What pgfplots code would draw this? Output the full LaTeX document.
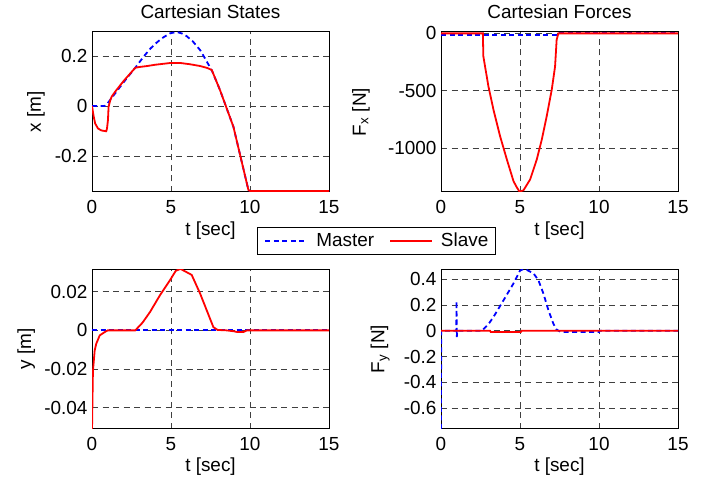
\documentclass[border=0pt]{standalone}
\usepackage{fontspec}
\setmainfont{Liberation Sans}
\usepackage{pgfplots}
\pgfplotsset{compat=1.18}

\definecolor{mblue}{RGB}{0,0,255}
\definecolor{sred}{RGB}{255,0,0}

\pgfplotsset{
  panel/.style={
    scale only axis, width=237bp, anchor=south west,
    xmin=0, xmax=15, xtick={0,5,10,15}, xticklabels={0,5,10,15},
    scaled ticks=false,
    grid=major,
    major grid style={dash pattern=on 6bp off 4.5bp, black!75, line width=0.6bp},
    major tick length=0pt,
    axis line style={black, line width=1bp},
    xticklabel style={yshift=-2bp},
    yticklabel style={xshift=2bp},
    xlabel={t [sec]},
    xlabel style={at={(axis description cs:0.5,-0.24)}, anchor=center},
    every axis title shift=0pt,
    title style={at={(axis description cs:0.5,1.125)}, anchor=center},
  },
  master/.style={mblue, line width=1.8bp, dash pattern=on 5bp off 3.5bp},
  slave/.style={sred, line width=1.8bp},
}

\begin{document}
\fontsize{19}{22}\selectfont
\begin{tikzpicture}
\useasboundingbox (0,0) rectangle (717bp,481bp);

% top left: x position
\begin{axis}[panel, at={(92bp,289bp)}, height=160bp,
  ymin=-0.344, ymax=0.296,
  ytick={-0.2,0,0.2}, yticklabels={-0.2,0,0.2},
  ylabel={x [m]},
  ylabel style={at={(axis description cs:-0.236,0.5)}, anchor=center},
  title={Cartesian States},
  legend columns=2,
  legend style={at={(axis description cs:1.2,-0.306)}, anchor=center,
    draw=black, line width=0.8bp, inner xsep=7bp, inner ysep=5bp,
    nodes={inner sep=0pt},
    /tikz/every odd column/.append style={column sep=8bp},
    /tikz/every even column/.append style={column sep=15bp}},
  legend image code/.code={\draw[#1] (0bp,0bp) -- (42bp,0bp);},
]
\addplot[master] coordinates {(0,0) (0.8,0) (1.0,0.012) (1.4,0.045) (2.0,0.095)
  (2.74,0.153) (3.26,0.197) (3.7,0.23) (4.1,0.254) (4.5,0.274) (4.95,0.291)
  (5.37,0.296) (5.7,0.29) (6.0,0.279) (6.4,0.257) (6.84,0.224) (7.1,0.196)
  (7.37,0.166) (7.6,0.14) (8.1,0.064) (8.95,-0.083) (9.9,-0.336) (10,-0.34) (15,-0.34)};
\addlegendentry{Master}
\addplot[slave] coordinates {(0,0) (0.1,-0.04) (0.2,-0.07) (0.38,-0.09) (0.6,-0.098)
  (0.9,-0.101) (0.95,-0.09) (1.01,-0.056) (1.05,-0.003) (1.15,0.022) (1.25,0.038)
  (1.5,0.06) (2.0,0.1) (2.74,0.153) (3.0,0.156) (3.5,0.16) (4.0,0.165) (4.95,0.172)
  (5.6,0.172) (6.2,0.167) (6.84,0.16) (7.3,0.152) (7.58,0.144) (8.1,0.064)
  (8.95,-0.083) (9.9,-0.336) (10,-0.34) (15,-0.34)};
\addlegendentry{Slave}
\end{axis}

% top right: Fx
\begin{axis}[panel, at={(441bp,289bp)}, height=160bp,
  ymin=-1385, ymax=12,
  ytick={-1000,-500,0}, yticklabels={-1000,-500,0},
  ylabel={F\textsubscript{x} [N]},
  ylabel style={at={(axis description cs:-0.338,0.5)}, anchor=center},
  title={Cartesian Forces},
]
\addplot[master] coordinates {(0,-12) (7.4,-12) (7.45,0) (15,0)};
\addplot[slave] coordinates {(0,0) (2.65,0) (2.68,-200) (3.0,-462) (3.32,-666)
  (3.74,-898) (4.17,-1102) (4.59,-1291) (4.8,-1345) (4.97,-1382) (5.22,-1370)
  (5.64,-1276) (6.06,-1102) (6.38,-927) (6.69,-724) (7.01,-491) (7.22,-288)
  (7.32,-55) (7.43,0) (15,0)};
\end{axis}

% bottom left: y position
\begin{axis}[panel, at={(92bp,52.3bp)}, height=159.4bp,
  ymin=-0.0509, ymax=0.0316,
  ytick={-0.04,-0.02,0,0.02}, yticklabels={-0.04,-0.02,0,0.02},
  ylabel={y [m]},
  ylabel style={at={(axis description cs:-0.278,0.5)}, anchor=center},
]
\addplot[master] coordinates {(0,0) (15,0)};
\addplot[slave] coordinates {(0,-0.052) (0.03,-0.036) (0.06,-0.021) (0.17,-0.0104)
  (0.27,-0.0069) (0.49,-0.0026) (0.8,-0.0009) (1.0,0) (2.74,0) (3.2,0.004)
  (3.68,0.0096) (4.31,0.0183) (4.94,0.026) (5.3,0.0308) (5.6,0.0318) (5.9,0.0305)
  (6.31,0.0287) (6.84,0.0191) (7.26,0.0104) (7.68,0.0017) (7.95,0.0002) (8.5,0)
  (9.0,-0.0005) (9.2,-0.0009) (9.6,-0.0008) (9.8,0) (15,0)};
\end{axis}

% bottom right: Fy
\begin{axis}[panel, at={(441bp,52.3bp)}, height=159.4bp,
  ymin=-0.758, ymax=0.475,
  ytick={-0.6,-0.4,-0.2,0,0.2,0.4}, yticklabels={-0.6,-0.4,-0.2,0,0.2,0.4},
  ylabel={F\textsubscript{y} [N]},
  ylabel style={at={(axis description cs:-0.257,0.5)}, anchor=center},
]
\addplot[master] coordinates {(0,-0.76) (0.01,0) (0.97,0) (0.98,0.23) (1.0,-0.05)
  (1.02,0) (2.59,0) (3.0,0.05) (3.32,0.106) (3.96,0.236) (4.59,0.366) (5.0,0.465)
  (5.2,0.475) (5.43,0.47) (5.85,0.444) (6.16,0.392) (6.48,0.288) (6.8,0.158)
  (7.11,0.055) (7.32,0.008) (7.6,-0.01) (10,-0.01) (10.05,0) (15,0)};
\addplot[slave] coordinates {(0,0) (3.1,0) (3.15,-0.01) (5.05,-0.01) (5.1,0) (15,0)};
\end{axis}
\end{tikzpicture}
\end{document}
